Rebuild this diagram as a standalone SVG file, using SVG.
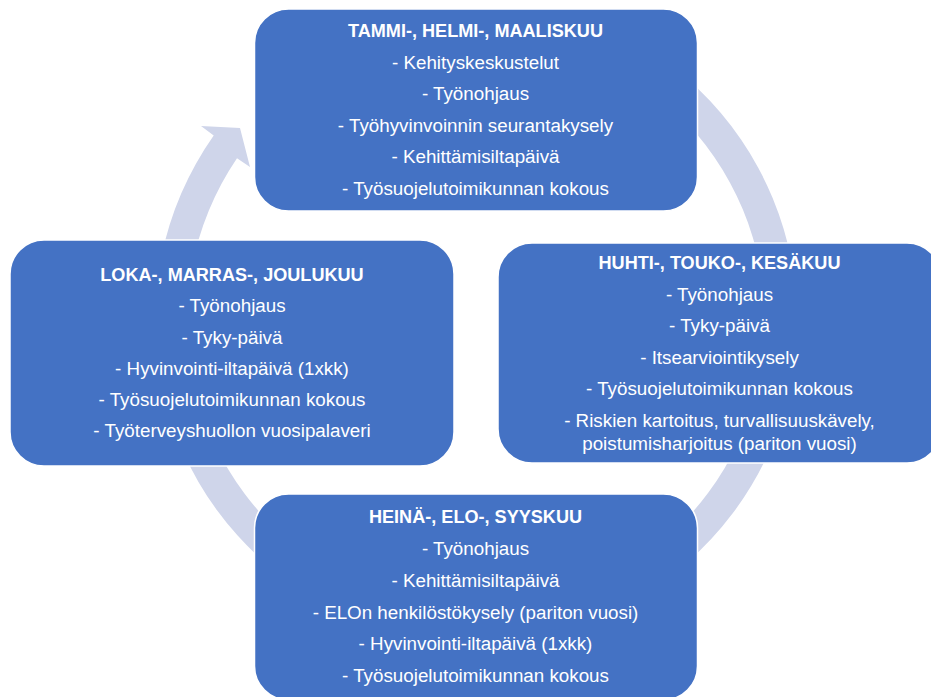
<svg xmlns="http://www.w3.org/2000/svg" width="931" height="697" viewBox="0 0 931 697">
<style>
.box{fill:#4472C4;stroke:#FFFFFF;stroke-width:1.5}
.t{font-family:"Liberation Sans",Arial,sans-serif;font-size:18.8px;fill:#FFFFFF;text-anchor:middle}
.b{font-weight:bold;font-size:18.1px}
.ring{fill:#CFD5EA;stroke:none}
</style>
<rect width="931" height="697" fill="#FFFFFF"/>
<g id="connectors">
<path class="ring" d="M 585.8 19 A 321 321 0 1 1 213.7 135.6 L 201 126 L 240 128 L 250 167 L 237 158.2 A 289 289 0 1 0 574.8 49 Z"/>
</g>
<g id="node-q1">
<rect class="box" x="254.5" y="9" width="443" height="202" rx="34"/>
<text class="t b" x="475.5" y="37">TAMMI-, HELMI-, MAALISKUU</text>
<text class="t" x="475.5" y="68.5">- Kehityskeskustelut</text>
<text class="t" x="475.5" y="100">- Työnohjaus</text>
<text class="t" x="475.5" y="131.5">- Työhyvinvoinnin seurantakysely</text>
<text class="t" x="475.5" y="163">- Kehittämisiltapäivä</text>
<text class="t" x="475.5" y="194.5">- Työsuojelutoimikunnan kokous</text>
</g>
<g id="node-q2">
<rect class="box" x="498" y="243" width="443" height="220" rx="34"/>
<text class="t b" x="719.5" y="269">HUHTI-, TOUKO-, KESÄKUU</text>
<text class="t" x="719.5" y="300.5">- Työnohjaus</text>
<text class="t" x="719.5" y="332">- Tyky-päivä</text>
<text class="t" x="719.5" y="363.5">- Itsearviointikysely</text>
<text class="t" x="719.5" y="395">- Työsuojelutoimikunnan kokous</text>
<text class="t" x="719.5" y="427">- Riskien kartoitus, turvallisuuskävely,</text>
<text class="t" x="719.5" y="450">poistumisharjoitus (pariton vuosi)</text>
</g>
<g id="node-q3">
<rect class="box" x="254.5" y="494" width="443" height="206" rx="34"/>
<text class="t b" x="475.5" y="523">HEINÄ-, ELO-, SYYSKUU</text>
<text class="t" x="475.5" y="555">- Työnohjaus</text>
<text class="t" x="475.5" y="587">- Kehittämisiltapäivä</text>
<text class="t" x="475.5" y="618.5">- ELOn henkilöstökysely (pariton vuosi)</text>
<text class="t" x="475.5" y="650">- Hyvinvointi-iltapäivä (1xkk)</text>
<text class="t" x="475.5" y="682">- Työsuojelutoimikunnan kokous</text>
</g>
<g id="node-q4">
<rect class="box" x="10" y="240" width="444" height="226" rx="34"/>
<text class="t b" x="232" y="281">LOKA-, MARRAS-, JOULUKUU</text>
<text class="t" x="232" y="312">- Työnohjaus</text>
<text class="t" x="232" y="343.5">- Tyky-päivä</text>
<text class="t" x="232" y="375">- Hyvinvointi-iltapäivä (1xkk)</text>
<text class="t" x="232" y="406">- Työsuojelutoimikunnan kokous</text>
<text class="t" x="232" y="437">- Työterveyshuollon vuosipalaveri</text>
</g>
</svg>
